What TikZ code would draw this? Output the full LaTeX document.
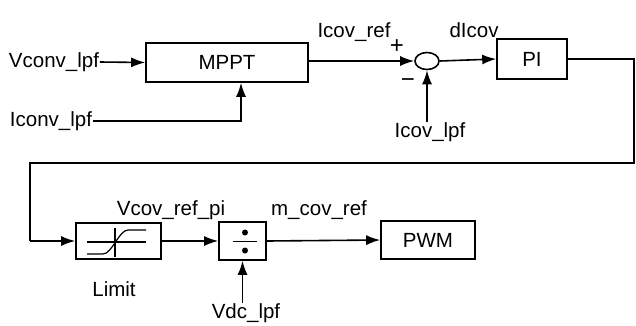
\documentclass[tikz,border=0pt]{standalone}
\usepackage{fontspec}
\setmainfont{Liberation Sans}
\usetikzlibrary{arrows.meta,shapes.geometric,calc}
\begin{document}
\begin{tikzpicture}[x=1pt,y=-1pt,
  line width=1.6pt,
  >={Latex[length=14pt,width=10pt]},
  blk/.style={draw,rectangle,inner sep=0pt,font=\fontsize{20.5}{22}\selectfont},
  lbl/.style={inner sep=0pt,font=\fontsize{20.5}{22}\selectfont},
  sgn/.style={inner sep=0pt,font=\fontsize{24}{24}\selectfont}]
\useasboundingbox (0,0) rectangle (636,325);
% blocks
\node[blk,minimum width=162pt,minimum height=39pt] (mppt) at (227,62.5) {MPPT};
\node[draw,ellipse,minimum width=24pt,minimum height=17pt,inner sep=0pt] (sum) at (427,61) {};
\node[blk,minimum width=70pt,minimum height=40pt] (pi) at (532,59) {PI};
\node[blk,minimum width=85pt,minimum height=36pt] (lim) at (118.5,241) {};
\node[blk,minimum width=47pt,minimum height=38pt] (div) at (242.5,241) {};
\node[blk,minimum width=94pt,minimum height=38pt] (pwm) at (428,240) {PWM};
% inputs and labels
\node[lbl] (vconv) at (54,62) {Vconv\_lpf};
\node[lbl] (iconv) at (51,121) {Iconv\_lpf};
\node[lbl] (icovref) at (354,32) {Icov\_ref};
\node[sgn] (plus) at (397,47) {+};
\node[sgn] (minus) at (408,83) {−};
\node[lbl] (icovlpf) at (430,132) {Icov\_lpf};
\node[lbl] (dicov) at (474,30) {dIcov};
\node[lbl] (vcovrefpi) at (171,210) {Vcov\_ref\_pi};
\node[lbl] (mcovref) at (319,210) {m\_cov\_ref};
\node[lbl] (limit) at (114,289) {Limit};
\node[lbl] (vdc) at (246,313) {Vdc\_lpf};
% routing points
\coordinate (mppt in) at ($(mppt.south)+(14,0)$);
\coordinate (r1) at (634,59);
\coordinate (r2) at (634,163);
\coordinate (l1) at (30,163);
\coordinate (l2) at (30,241);
% connectors
\draw[->] (vconv.east) -- (mppt.west);
\draw[->] (iconv.east) -| (mppt in);
\draw[->] (mppt.east |- sum.west) -- (sum.west);
\draw[->] (icovlpf.north -| sum.south) -- (sum.south);
\draw[->] (sum.east) -- (pi.west);
\draw (pi.east) -- (r1) -- (r2) -- (l1) -- (l2);
\draw[->] (l2) -- (lim.west);
\draw[->] (lim.east) -- (div.west);
\draw[->] (vdc.north -| div.south) -- (div.south);
\draw[->] (div.east) -- (pwm.west);
% saturation symbol
\draw[line width=1.2pt] (87,242) -- (146,242);
\draw[line width=1.2pt] (115,228) -- (115,257);
\draw[line width=1.2pt] (87,254) -- (103,254) .. controls (112,254) and (119,230) .. (128,230) -- (146,230);
% divide symbol
\draw[line width=1.4pt] (233,241.5) -- (257,241.5);
\fill (245,232.5) circle (3pt);
\fill (245,250.5) circle (3pt);
\end{tikzpicture}
\end{document}
